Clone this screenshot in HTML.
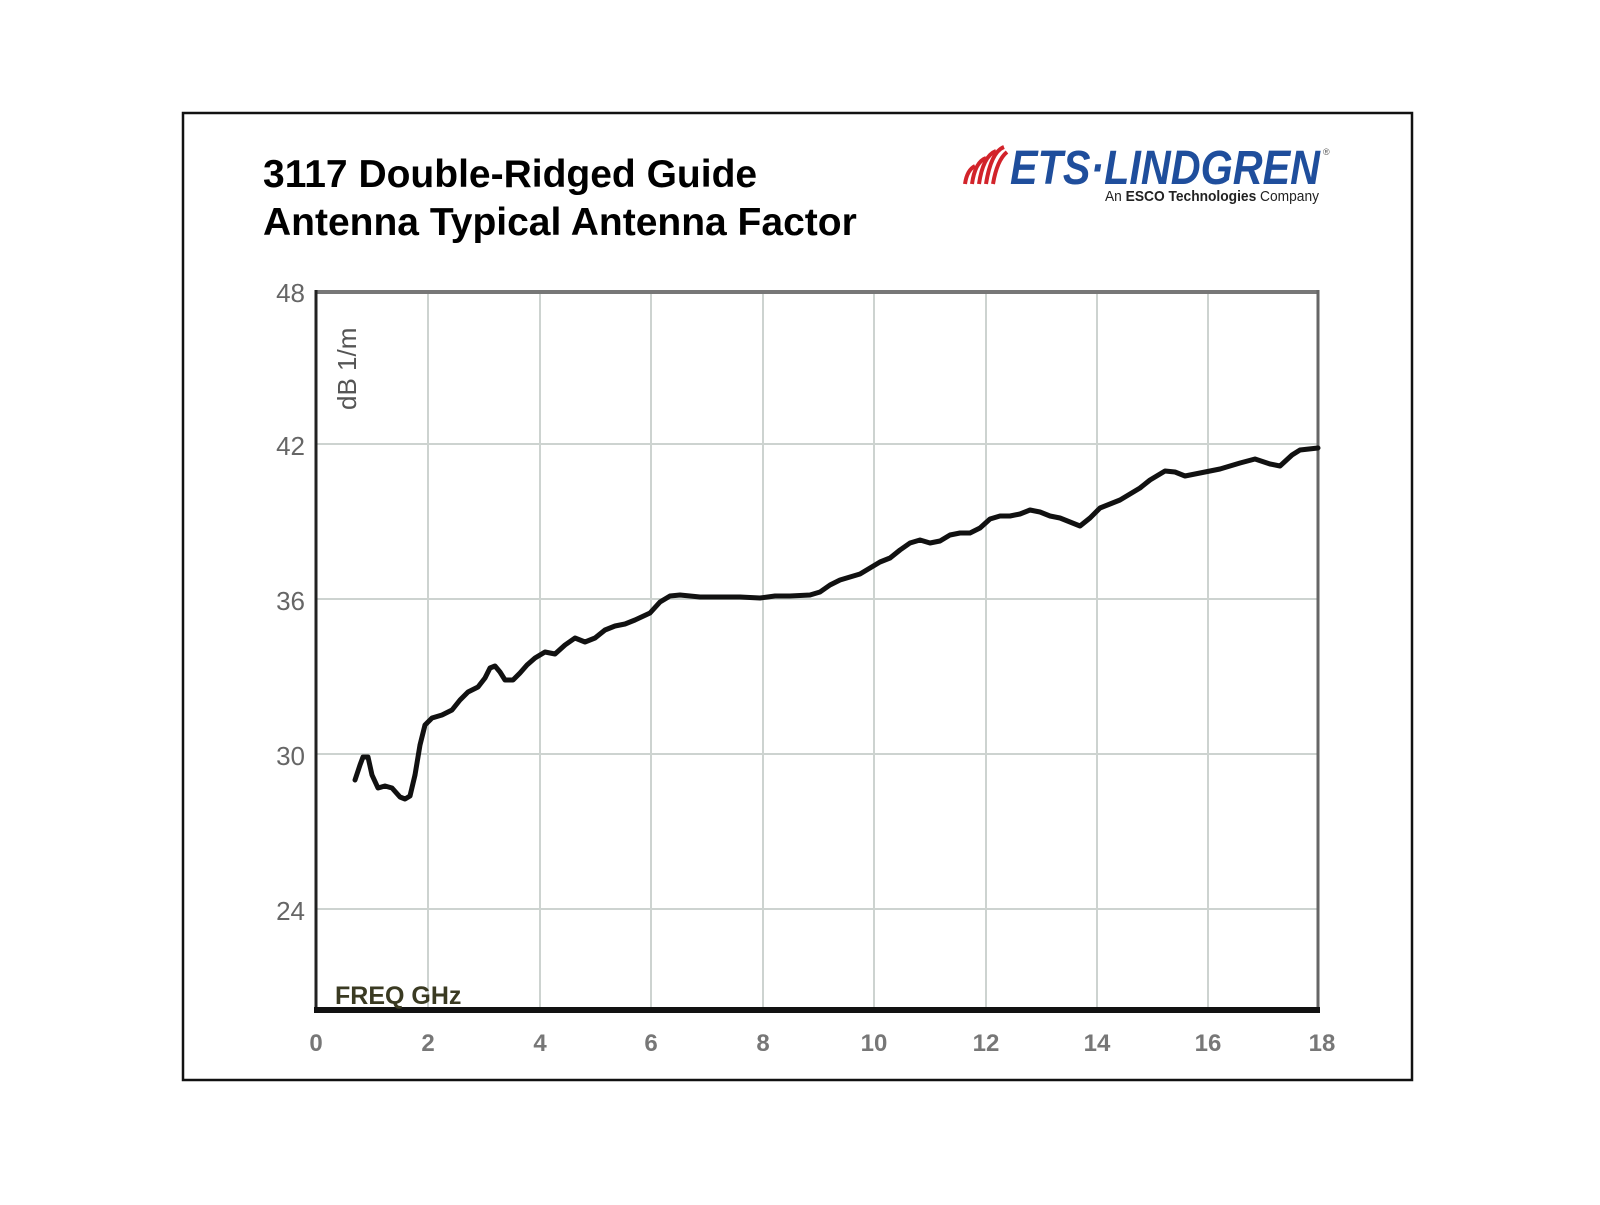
<!DOCTYPE html>
<html><head><meta charset="utf-8"><style>
html,body{margin:0;padding:0;background:#fff;}
</style></head><body>
<svg width="1600" height="1200" viewBox="0 0 1600 1200" xmlns="http://www.w3.org/2000/svg">
<rect x="0" y="0" width="1600" height="1200" fill="#fff"/>
<rect x="183" y="113" width="1229" height="967" fill="none" stroke="#111" stroke-width="2.5"/>
<text x="263" y="187" font-family="Liberation Sans, sans-serif" font-weight="bold" font-size="39" fill="#000">3117 Double-Ridged Guide</text>
<text x="263" y="235" font-family="Liberation Sans, sans-serif" font-weight="bold" font-size="39" fill="#000">Antenna Typical Antenna Factor</text>
<!-- logo -->
<g fill="none" stroke="#d2232a" stroke-width="4">
<path d="M965 184 Q967 170 975 166"/>
<path d="M972 184 Q975 162 986 158"/>
<path d="M979 184 Q983 156 996 151"/>
<path d="M986 184 Q991 152 1004 147"/>
<path d="M993 184 Q997 160 1007 152"/>
</g>
<text x="1010" y="184" font-family="Liberation Sans, sans-serif" font-weight="bold" font-style="italic" font-size="48" fill="#1f4e9c" textLength="310" lengthAdjust="spacingAndGlyphs">ETS·LINDGREN</text>
<text x="1323" y="155" font-family="Liberation Sans, sans-serif" font-size="9" fill="#555">®</text>
<text x="1105" y="201" font-family="Liberation Sans, sans-serif" font-size="15" fill="#222" textLength="214" lengthAdjust="spacingAndGlyphs">An <tspan font-weight="bold">ESCO Technologies</tspan> Company</text>
<!-- grid -->
<g stroke="#cdd3d0" stroke-width="2">
<line x1="428" y1="292" x2="428" y2="1008"/>
<line x1="540" y1="292" x2="540" y2="1008"/>
<line x1="651" y1="292" x2="651" y2="1008"/>
<line x1="763" y1="292" x2="763" y2="1008"/>
<line x1="874" y1="292" x2="874" y2="1008"/>
<line x1="986" y1="292" x2="986" y2="1008"/>
<line x1="1097" y1="292" x2="1097" y2="1008"/>
<line x1="1208" y1="292" x2="1208" y2="1008"/>
<line x1="317" y1="444" x2="1318" y2="444"/>
<line x1="317" y1="599" x2="1318" y2="599"/>
<line x1="317" y1="754" x2="1318" y2="754"/>
<line x1="317" y1="909" x2="1318" y2="909"/>
</g>
<line x1="315" y1="292" x2="1318" y2="292" stroke="#777" stroke-width="4"/>
<line x1="1318" y1="290" x2="1318" y2="1010" stroke="#666" stroke-width="3"/>
<line x1="316" y1="290" x2="316" y2="1012" stroke="#222" stroke-width="3"/>
<line x1="314" y1="1010" x2="1320" y2="1010" stroke="#111" stroke-width="6"/>
<g font-family="Liberation Sans, sans-serif" font-size="26" fill="#666" text-anchor="end">
<text x="305" y="302">48</text>
<text x="305" y="455">42</text>
<text x="305" y="610">36</text>
<text x="305" y="765">30</text>
<text x="305" y="920">24</text>
</g>
<g font-family="Liberation Sans, sans-serif" font-size="24" font-weight="bold" fill="#777" text-anchor="middle">
<text x="316" y="1051">0</text><text x="428" y="1051">2</text><text x="540" y="1051">4</text>
<text x="651" y="1051">6</text><text x="763" y="1051">8</text><text x="874" y="1051">10</text>
<text x="986" y="1051">12</text><text x="1097" y="1051">14</text><text x="1208" y="1051">16</text>
<text x="1322" y="1051">18</text>
</g>
<text x="335" y="1004" font-family="Liberation Sans, sans-serif" font-size="25" font-weight="bold" fill="#3a3a22">FREQ GHz</text>
<text transform="translate(356,410) rotate(-90)" font-family="Liberation Sans, sans-serif" font-size="26" fill="#555">dB 1/m</text>
<polyline fill="none" stroke="#111" stroke-width="5" stroke-linejoin="round" stroke-linecap="round"
points="355,780 360,765 363,757 368,757 372,775 378,788 385,786 392,788 400,797 405,799 410,796 415,775 420,745 425,725 432,718 442,715 452,710 460,700 468,692 478,687 485,678 490,668 495,666 500,672 505,680 513,680 520,673 527,665 535,658 545,652 555,654 565,645 575,638 585,642 595,638 605,630 615,626 625,624 635,620 650,613 660,602 670,596 680,595 700,597 720,597 740,597 760,598 775,596 790,596 810,595 820,592 830,585 840,580 850,577 860,574 870,568 880,562 890,558 900,550 910,543 920,540 930,543 940,541 950,535 960,533 970,533 980,528 990,519 1000,516 1010,516 1020,514 1030,510 1040,512 1050,516 1060,518 1070,522 1080,526 1090,518 1100,508 1110,504 1120,500 1130,494 1140,488 1150,480 1165,471 1175,472 1185,476 1200,473 1220,469 1240,463 1255,459 1270,464 1280,466 1292,455 1300,450 1318,448"/>
</svg>
</body></html>
